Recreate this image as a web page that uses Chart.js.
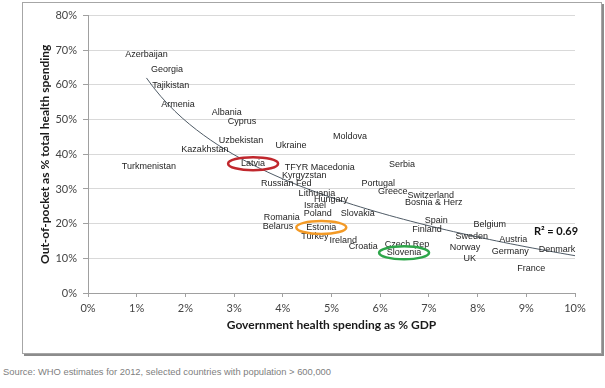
<!DOCTYPE html>
<html>
<head>
<meta charset="utf-8">
<script src="https://cdn.jsdelivr.net/npm/chart.js@4.4.0/dist/chart.umd.min.js"></script>
<style>
  body { margin: 0; background: #fff; width: 605px; height: 388px; overflow: hidden; position: relative; }
  #frame { position: absolute; left: 22px; top: 2px; width: 578px; height: 350px; border: 1px solid #a6a6a6; box-shadow: 2px 2px 0 #8c8c8c; }
  #source { position: absolute; left: 3px; top: 366px; font: 9.4px "Liberation Sans", Arial, sans-serif; color: #808080; }
</style>
</head>
<body>
<div id="frame"><canvas id="chart" width="578" height="350"></canvas></div>
<div id="source">Source: WHO estimates for 2012, selected countries with population &gt; 600,000</div>
<script>
const countries = [
    'Azerbaijan', 'Georgia', 'Tajikistan', 'Armenia', 'Albania', 'Cyprus', 'Uzbekistan',
    'Kazakhstan', 'Ukraine', 'Moldova', 'Turkmenistan', 'Latvia', 'TFYR Macedonia',
    'Kyrgyzstan', 'Russian Fed', 'Serbia', 'Portugal', 'Greece', 'Switzerland',
    'Bosnia & Herz', 'Lithuania', 'Hungary', 'Israel', 'Poland', 'Slovakia', 'Romania',
    'Belarus', 'Estonia', 'Turkey', 'Ireland', 'Croatia', 'Czech Rep', 'Slovenia',
    'Spain', 'Finland', 'Belgium', 'Sweden', 'Austria', 'Norway', 'Germany', 'Denmark',
    'UK', 'France'
];
// government health spending, % of GDP
const govSpending = [
    1.20, 1.62, 1.70, 1.85, 2.85, 3.16, 3.14,
    2.40, 4.17, 5.38, 1.25, 3.39, 4.76,
    4.44, 4.07, 6.45, 5.96, 6.26, 7.04,
    7.10, 4.70, 4.99, 4.66, 4.72, 5.54, 3.98,
    3.90, 4.79, 4.66, 5.24, 5.65, 6.55, 6.49,
    7.15, 6.96, 8.25, 7.88, 8.73, 7.74, 8.67, 9.63,
    7.84, 9.10
];
// out-of-pocket, % of total health spending
const outOfPocket = [
    68.9, 64.4, 59.9, 54.5, 52.0, 49.4, 44.1,
    41.5, 42.4, 45.2, 36.4, 37.3, 36.2,
    33.9, 31.6, 37.0, 31.6, 29.4, 28.2,
    26.0, 28.8, 27.1, 25.1, 22.9, 22.9, 21.8,
    19.2, 18.9, 16.4, 15.0, 13.3, 14.1, 11.6,
    20.9, 18.4, 19.8, 16.4, 15.3, 13.0, 11.9, 12.4,
    9.9, 7.1
];
const highlighted = { 'Latvia': '#c0272d', 'Estonia': '#f39a26', 'Slovenia': '#2ea64a' };
const rSquaredText = 'R\u00b2 = 0.69';

// logarithmic trendline y = c + d*ln(x), least squares
const n = govSpending.length;
let sx = 0, sy = 0, sxx = 0, sxy = 0;
govSpending.forEach((x, i) => {
    const lx = Math.log(x);
    sx += lx; sy += outOfPocket[i]; sxx += lx * lx; sxy += lx * outOfPocket[i];
});
const d = (n * sxy - sx * sy) / (n * sxx - sx * sx);
const c = (sy - d * sx) / n;
const xMin = Math.min(...govSpending);
const trend = [];
for (let i = 0; i <= 60; i++) {
    const x = xMin + (10 - xMin) * i / 60;
    trend.push({ x, y: c + d * Math.log(x) });
}

const labelPlugin = {
    id: 'countryLabels',
    afterDatasetsDraw(chart) {
        const ctx = chart.ctx;
        const meta = chart.getDatasetMeta(0);
        ctx.save();
        ctx.font = '9px "Liberation Sans", Arial, sans-serif';
        ctx.textAlign = 'center';
        ctx.textBaseline = 'middle';
        ctx.fillStyle = '#1e1e1e';
        meta.data.forEach((pt, i) => {
            ctx.fillText(countries[i], pt.x, pt.y);
        });
        meta.data.forEach((pt, i) => {
            const col = highlighted[countries[i]];
            if (!col) return;
            ctx.beginPath();
            ctx.ellipse(pt.x, pt.y, 25, 6.5, 0, 0, Math.PI * 2);
            ctx.strokeStyle = col;
            ctx.lineWidth = 2.5;
            ctx.stroke();
        });
        ctx.font = 'bold 11px Lato, sans-serif';
        ctx.fillStyle = '#111';
        ctx.fillText(rSquaredText, chart.scales.x.getPixelForValue(9.61), chart.scales.y.getPixelForValue(17.8));
        ctx.restore();
    }
};

new Chart(document.getElementById('chart'), {
    type: 'scatter',
    data: {
        datasets: [{
            data: govSpending.map((x, i) => ({ x, y: outOfPocket[i] })),
            pointRadius: 0,
            pointHoverRadius: 0,
        }, {
            data: trend,
            showLine: true,
            pointRadius: 0,
            borderColor: '#4f5b66',
            borderWidth: 1,
        }]
    },
    options: {
        responsive: false,
        animation: false,
        layout: { padding: { top: 7, right: 26, left: 0, bottom: 0 } },
        plugins: {
            legend: { display: false },
            tooltip: { enabled: false }
        },
        scales: {
            x: {
                type: 'linear',
                min: 0,
                max: 10,
                afterFit: (s) => { s.height = 60; },
                ticks: {
                    stepSize: 1,
                    padding: 5,
                    color: '#444',
                    font: { family: 'Lato', size: 11 },
                    callback: (v) => v + '%'
                },
                grid: { drawOnChartArea: false, tickLength: 4, tickColor: '#a0a0a0' },
                border: { color: '#a0a0a0' },
                title: {
                    display: true,
                    text: 'Government health spending as % GDP',
                    color: '#1a1a1a',
                    font: { family: 'Lato', size: 12, weight: 'bold' },
                    padding: { top: 0, bottom: 21 }
                }
            },
            y: {
                min: 0,
                max: 80,
                afterFit: (s) => { s.width = 65; },
                ticks: {
                    stepSize: 10,
                    padding: 6,
                    color: '#444',
                    font: { family: 'Lato', size: 11 },
                    callback: (v) => v + '%'
                },
                grid: { color: '#d9d9d9', tickLength: 5, tickColor: '#a0a0a0' },
                border: { color: '#a0a0a0' },
                title: {
                    display: true,
                    text: 'Out-of-pocket as % total health spending',
                    color: '#1a1a1a',
                    font: { family: 'Lato', size: 12, weight: 'bold' },
                    padding: { top: 15, bottom: 0 }
                }
            }
        }
    },
    plugins: [labelPlugin]
});
</script>
</body>
</html>
